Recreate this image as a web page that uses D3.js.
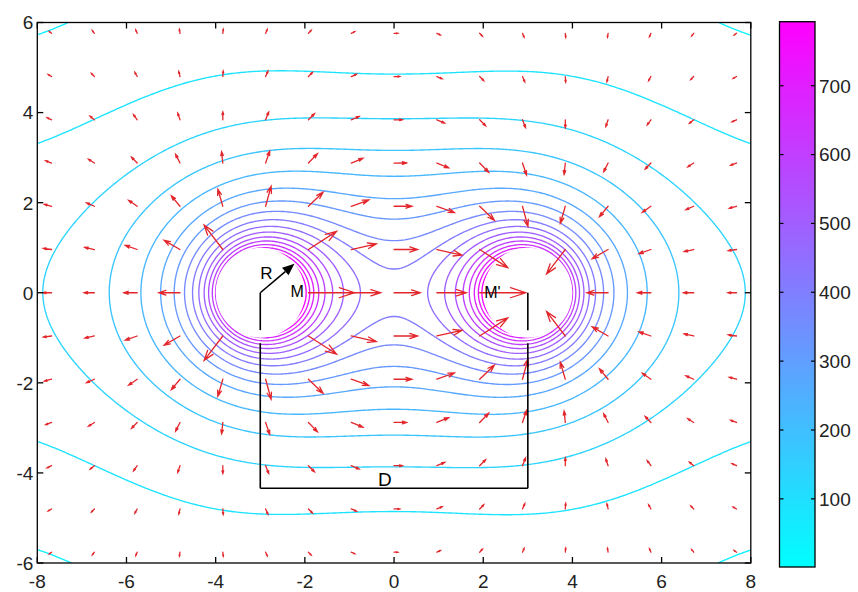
<!DOCTYPE html>
<html><head><meta charset="utf-8">
<script src="https://cdn.jsdelivr.net/npm/d3@7"></script>
<style>
html,body{margin:0;padding:0;background:#fff;}
svg{display:block;font-family:"Liberation Sans",Arial,Helvetica,sans-serif;}
</style></head><body>
<svg id="chart" width="858" height="592"></svg>
<script>
// ---- data -------------------------------------------------------------
const xDomain = [-8, 8];
const yDomain = [-6, 6];
const xTicks = [-8, -6, -4, -2, 0, 2, 4, 6, 8];
const yTicks = [-6, -4, -2, 0, 2, 4, 6];
// two charged conductors (centre, sign), radius R
const sphereX = [-3, 3];
const sphereSign = [1, -1];
const sphereR = 1;
// grounded enclosure half-sizes
const wallX = 9.5;
const wallY = 9;
// contour levels of |E| and the colour bar range (|E| at M is the top)
const levels = [46, 89, 135, 180, 226, 272, 317, 363, 409, 454, 500, 546, 591, 637, 683, 728, 774];
const colorRange = [1, 793];
const colorTicks = [100, 200, 300, 400, 500, 600, 700];
// quiver grid indices and spacing
const arrowCols = [-8, -7, -6, -5, -4, -3, -2, -1, 0, 1, 2, 3, 4, 5, 6, 7, 8];
const arrowRows = [-6, -5, -4, -3, -2, -1, 0, 1, 2, 3, 4, 5, 6];
const arrowSpacing = 0.96;
// annotation geometry
const bracketY = -4.34;
const radiusAngle = 40;

// ---- layout -----------------------------------------------------------
const svg = d3.select("#chart");
const plot = {left: 37.3, right: 750.8, top: 22.5, bottom: 563};
const cb = {left: 779.5, right: 815, top: 21.7, bottom: 567};
const xs = d3.scaleLinear().domain(xDomain).range([plot.left, plot.right]);
const ys = d3.scaleLinear().domain(yDomain).range([plot.bottom, plot.top]);
const cs = d3.scaleLinear().domain(colorRange).range([cb.bottom, cb.top]);
const cool = v => {
  const t = Math.max(0, Math.min(1, (v - colorRange[0]) / (colorRange[1] - colorRange[0])));
  return d3.rgb(255 * t, 255 * (1 - t), 255).formatHex();
};

// ---- field of two line charges with their images in the enclosure -------
const images = [];
const M = 3;
sphereX.forEach((x0, i) => {
  const q = sphereSign[i];
  for (let m = -M; m <= M; m++) {
    for (const [xi, sx] of [[x0 + 4 * wallX * m, 1], [2 * wallX - x0 + 4 * wallX * m, -1]]) {
      for (let n = -M; n <= M; n++) {
        for (const [yi, sy] of [[4 * wallY * n, 1], [2 * wallY + 4 * wallY * n, -1]]) {
          images.push(xi, yi, q * sx * sy);
        }
      }
    }
  }
});
function field(x, y) {
  let ex = 0, ey = 0;
  for (let i = 0; i < images.length; i += 3) {
    const dx = x - images[i], dy = y - images[i + 1];
    const r2 = Math.max(dx * dx + dy * dy, 1e-9);
    const s = images[i + 2] / r2;
    ex += s * dx; ey += s * dy;
  }
  return [ex, ey];
}
const inSphere = (x, y) => sphereX.some(cx => Math.hypot(x - cx, y) < sphereR);
const magAt = (x, y) => Math.hypot(...field(x, y));
const k = colorRange[1] / magAt(sphereX[0] + sphereR, 0);   // |E| at M

const h = 0.04;
const nx = Math.round((xDomain[1] - xDomain[0]) / h) + 1;
const ny = Math.round((yDomain[1] - yDomain[0]) / h) + 1;
const vals = new Array(nx * ny);
for (let j = 0; j < ny; j++) {
  const y = yDomain[1] - j * h;
  for (let i = 0; i < nx; i++) {
    vals[j * nx + i] = Math.min(magAt(xDomain[0] + i * h, y) * k, 1e5);
  }
}

// ---- drawing ------------------------------------------------------------
const defs = svg.append("defs");
defs.append("clipPath").attr("id", "plotClip").append("rect")
  .attr("x", plot.left).attr("y", plot.top)
  .attr("width", plot.right - plot.left).attr("height", plot.bottom - plot.top);

const proj = d3.geoTransform({
  point(px, py) { this.stream.point(xs(xDomain[0] + (px - 0.5) * h), ys(yDomain[1] - (py - 0.5) * h)); }
});
const path = d3.geoPath(proj);
const contours = d3.contours().size([nx, ny]).thresholds(levels)(vals);

const gPlot = svg.append("g").attr("clip-path", "url(#plotClip)");
gPlot.append("g").selectAll("path").data(contours).join("path")
  .attr("d", path).attr("fill", "none")
  .attr("stroke", d => cool(d.value)).attr("stroke-width", 1.35)
  .attr("stroke-linejoin", "round");

// conductor cross-sections
gPlot.append("g").selectAll("ellipse").data(sphereX).join("ellipse")
  .attr("cx", d => xs(d)).attr("cy", ys(0))
  .attr("rx", xs(sphereR) - xs(0)).attr("ry", ys(0) - ys(sphereR))
  .attr("fill", "#fff");

// quiver arrows
const arrows = [];
arrowRows.forEach(r => arrowCols.forEach(c => {
  const x = c * arrowSpacing, y = r * arrowSpacing;
  if (inSphere(x, y)) return;
  const [u, v] = field(x, y);
  arrows.push({x, y, u, v, m: Math.hypot(u, v)});
}));
const lenScale = d3.scaleLinear().domain([0, d3.max(arrows, a => a.m)]).range([0, 46]);
const alpha = 0.33, beta = 0.33;
const gArr = gPlot.append("g").attr("stroke", "#e3262b").attr("stroke-width", 1.3)
  .attr("fill", "none").attr("stroke-linecap", "round");
arrows.forEach(a => {
  const L = lenScale(a.m);
  const u = a.u / a.m * L, v = -a.v / a.m * L;   // pixel units, y down
  const x0 = xs(a.x), y0 = ys(a.y), tx = x0 + u, ty = y0 + v;
  const p1 = [tx - alpha * (u + beta * v), ty - alpha * (v - beta * u)];
  const p2 = [tx - alpha * (u - beta * v), ty - alpha * (v + beta * u)];
  gArr.append("path").attr("d",
    `M${x0},${y0}L${tx},${ty}M${p1[0]},${p1[1]}L${tx},${ty}L${p2[0]},${p2[1]}`);
});

// axes box and ticks
const axisColor = "#000", labelColor = "#222", tickLen = 6;
svg.append("rect").attr("x", plot.left).attr("y", plot.top)
  .attr("width", plot.right - plot.left).attr("height", plot.bottom - plot.top)
  .attr("fill", "none").attr("stroke", axisColor).attr("stroke-width", 1.3);
const gT = svg.append("g").attr("stroke", axisColor).attr("stroke-width", 1.3);
xTicks.forEach(t => {
  gT.append("line").attr("x1", xs(t)).attr("x2", xs(t)).attr("y1", plot.bottom).attr("y2", plot.bottom - tickLen);
  gT.append("line").attr("x1", xs(t)).attr("x2", xs(t)).attr("y1", plot.top).attr("y2", plot.top + tickLen);
});
yTicks.forEach(t => {
  gT.append("line").attr("y1", ys(t)).attr("y2", ys(t)).attr("x1", plot.left).attr("x2", plot.left + tickLen);
  gT.append("line").attr("y1", ys(t)).attr("y2", ys(t)).attr("x1", plot.right).attr("x2", plot.right - tickLen);
});
svg.append("g").selectAll("text").data(xTicks).join("text")
  .attr("x", d => xs(d)).attr("y", 588).attr("text-anchor", "middle")
  .attr("font-size", 19).attr("fill", labelColor).text(d => String(d));
svg.append("g").selectAll("text").data(yTicks).join("text")
  .attr("x", plot.left - 4).attr("y", d => ys(d)).attr("dy", "0.36em").attr("text-anchor", "end")
  .attr("font-size", 19).attr("fill", labelColor).text(d => String(d));

// colour bar
const grad = defs.append("linearGradient").attr("id", "coolGrad")
  .attr("x1", 0).attr("x2", 0).attr("y1", 1).attr("y2", 0);
grad.append("stop").attr("offset", 0).attr("stop-color", cool(colorRange[0]));
grad.append("stop").attr("offset", 1).attr("stop-color", cool(colorRange[1]));
svg.append("rect").attr("x", cb.left).attr("y", cb.top)
  .attr("width", cb.right - cb.left).attr("height", cb.bottom - cb.top)
  .attr("fill", "url(#coolGrad)").attr("stroke", axisColor).attr("stroke-width", 1.3);
const gC = svg.append("g").attr("stroke", axisColor).attr("stroke-width", 1.2);
colorTicks.forEach(t => {
  gC.append("line").attr("x1", cb.left).attr("x2", cb.left + 4).attr("y1", cs(t)).attr("y2", cs(t));
  gC.append("line").attr("x1", cb.right).attr("x2", cb.right - 4).attr("y1", cs(t)).attr("y2", cs(t));
});
svg.append("g").selectAll("text").data(colorTicks).join("text")
  .attr("x", cb.right + 4).attr("y", d => cs(d)).attr("dy", "0.36em")
  .attr("font-size", 19).attr("fill", labelColor).text(d => String(d));

// annotation: radius arrow, separation bracket, point labels
const gA = svg.append("g").attr("stroke", "#000").attr("stroke-width", 1.6).attr("fill", "none");
sphereX.forEach(cx => {
  gA.append("line").attr("x1", xs(cx)).attr("x2", xs(cx)).attr("y1", ys(0)).attr("y2", ys(-0.83));
  gA.append("line").attr("x1", xs(cx)).attr("x2", xs(cx)).attr("y1", ys(-1.12)).attr("y2", ys(bracketY));
});
gA.append("line").attr("x1", xs(sphereX[0])).attr("x2", xs(sphereX[1]))
  .attr("y1", ys(bracketY)).attr("y2", ys(bracketY));
const ang = radiusAngle * Math.PI / 180;
const c0 = [xs(sphereX[0]), ys(0)];
const tip = [xs(sphereX[0] + sphereR * Math.cos(ang)), ys(sphereR * Math.sin(ang))];
const dirx = tip[0] - c0[0], diry = tip[1] - c0[1], dl = Math.hypot(dirx, diry);
const ux = dirx / dl, uy = diry / dl, hl = 12, hw = 5;
const hb = [tip[0] - ux * hl, tip[1] - uy * hl];
gA.append("line").attr("x1", c0[0]).attr("y1", c0[1]).attr("x2", hb[0]).attr("y2", hb[1]);
svg.append("path").attr("fill", "#000").attr("d",
  `M${tip[0]},${tip[1]}L${hb[0] - uy * hw},${hb[1] + ux * hw}L${hb[0] + uy * hw},${hb[1] - ux * hw}Z`);

const txt = (x, y, s, size) => svg.append("text").attr("x", x).attr("y", y)
  .attr("font-size", size).attr("fill", "#000").text(s);
txt(xs(-3.0), ys(0) - 14, "R", 17);
txt(xs(-2.32), ys(-0.1), "M", 16);
txt(xs(2.02), ys(-0.12), "M'", 16);
txt(xs(-0.36), ys(bracketY) - 2, "D", 19);
</script>
</body></html>
